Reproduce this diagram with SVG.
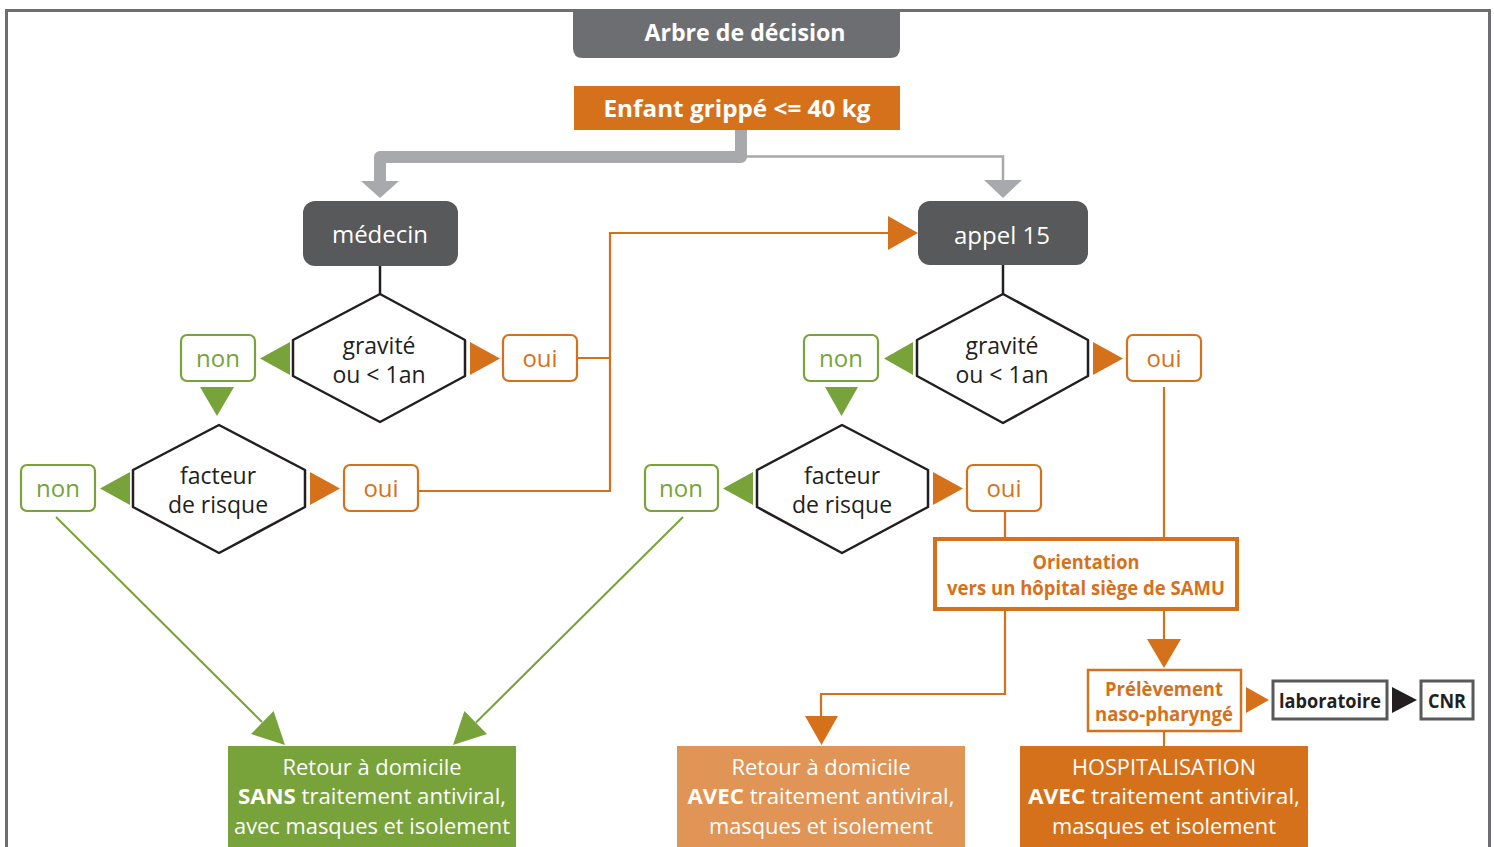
<svg xmlns="http://www.w3.org/2000/svg" width="1494" height="847" viewBox="0 0 1494 847">
<style>
.t{font-family:"Open Sans","Noto Sans","Liberation Sans",sans-serif;text-anchor:middle}
.w{fill:#ffffff}
.b{font-weight:bold}
.dk{fill:#231f20}
.gt{fill:#77a33a}
.ot{fill:#d6711b}
.dia{fill:#ffffff;stroke:#231f20;stroke-width:2.5;stroke-linejoin:round}
.gbox{fill:#ffffff;stroke:#77a33a;stroke-width:2.2}
.obox{fill:#ffffff;stroke:#d6711b;stroke-width:2.2}
.gl{fill:none;stroke:#77a33a;stroke-width:2}
.ol{fill:none;stroke:#d6711b;stroke-width:2.2}
.gf{fill:#77a33a}
.of{fill:#d6711b}
.kl{fill:none;stroke:#231f20;stroke-width:2.5}
.dt{font-size:23px}
</style>
<rect x="0" y="0" width="1494" height="847" fill="#ffffff"/>
<path d="M6.5 847 V10.5 H1489.5 V847" fill="none" stroke="#6d6e71" stroke-width="3"/>

<g id="title">
<path d="M573 10 H900 V48 Q900 58 890 58 H583 Q573 58 573 48 Z" fill="#6d6e71"/>
<text class="t w b" x="745" y="41" font-size="23" textLength="201" lengthAdjust="spacingAndGlyphs">Arbre de décision</text>
</g>

<g id="enfant">
<rect x="574" y="86" width="326" height="44" fill="#d6711b"/>
<text class="t w b" x="737" y="117" font-size="24" textLength="267" lengthAdjust="spacingAndGlyphs">Enfant grippé &lt;= 40 kg</text>
</g>

<g id="connectors">
<path d="M741 130 V157 H380 V182" fill="none" stroke="#a7a9ac" stroke-width="12" stroke-linejoin="round"/>
<polygon points="361,181 399,181 380,198" fill="#a7a9ac"/>
<path d="M741 156.5 H1003 V181" fill="none" stroke="#a7a9ac" stroke-width="2.5"/>
<polygon points="984,180 1022,180 1003,198" fill="#a7a9ac"/>

<line x1="380" y1="266" x2="380" y2="294" class="kl"/>
<line x1="1003" y1="265" x2="1003" y2="294" class="kl"/>

<polygon points="290,342 290,375 260,358.5" class="gf"/>
<polygon points="470,342 470,375 500,358.5" class="of"/>
<polygon points="200,387 234,387 217,416" class="gf"/>
<polygon points="130,472 130,505 100,488.5" class="gf"/>
<polygon points="310,472 310,505 340,488.5" class="of"/>

<path d="M577 358 H610 M418 491 H610 V233 H889" class="ol"/>
<polygon points="888,216 888,250 918,233" class="of"/>

<polygon points="913,342 913,375 884,358.5" class="gf"/>
<polygon points="1093,342 1093,375 1123,358.5" class="of"/>
<polygon points="825,387 858,387 841.5,416" class="gf"/>
<polygon points="753,472 753,505 723,488.5" class="gf"/>
<polygon points="933,472 933,505 963,488.5" class="of"/>

<path d="M1164 387 V538 M1005 511 V538" class="ol"/>
<path d="M1005 610 V694 H821 V717" class="ol"/>
<polygon points="805,716 838,716 821.5,745" class="of"/>
<path d="M1164 610 V641" class="ol"/>
<polygon points="1147,639 1181,639 1164,668" class="of"/>
<path d="M1164 731 V746" class="ol"/>
<polygon points="1246,687 1246,713 1269,700" class="of"/>
<polygon points="1392,687 1392,713 1417,700" fill="#231f20"/>

<line x1="56" y1="517" x2="262" y2="722" class="gl"/>
<polygon points="285,745 251,734 273.6,711" class="gf"/>
<line x1="683" y1="517" x2="476" y2="722.5" class="gl"/>
<polygon points="453,745 487,734 464.4,711" class="gf"/>
</g>

<g id="medecin">
<rect x="303" y="201" width="155" height="65" rx="12" fill="#58595b"/>
<text class="t w" x="380" y="243" font-size="24">médecin</text>
</g>

<g id="appel15">
<rect x="918" y="201" width="170" height="64" rx="12" fill="#58595b"/>
<text class="t w" x="1002" y="244" font-size="24">appel 15</text>
</g>

<g id="gravite-left">
<polygon points="380,294 465,340 465,376 380,422 293,376 293,340" class="dia"/>
<text class="t dk dt" x="379" y="354">gravité</text>
<text class="t dk dt" x="379" y="383">ou &lt; 1an</text>
</g>
<g id="non1">
<rect x="181" y="335" width="74" height="46" rx="6" class="gbox"/>
<text class="t gt" x="218" y="367" font-size="24">non</text>
</g>
<g id="oui1">
<rect x="503" y="335" width="74" height="46" rx="6" class="obox"/>
<text class="t ot" x="540" y="367" font-size="24">oui</text>
</g>

<g id="facteur-left">
<polygon points="219,425 305,470 305,507 219,553 133,507 133,470" class="dia"/>
<text class="t dk dt" x="218" y="484">facteur</text>
<text class="t dk dt" x="218" y="513">de risque</text>
</g>
<g id="non2">
<rect x="21" y="465" width="74" height="46" rx="6" class="gbox"/>
<text class="t gt" x="58" y="497" font-size="24">non</text>
</g>
<g id="oui2">
<rect x="344" y="465" width="74" height="46" rx="6" class="obox"/>
<text class="t ot" x="381" y="497" font-size="24">oui</text>
</g>

<g id="gravite-right">
<polygon points="1003,294 1088,340 1088,376 1003,423 917,376 917,340" class="dia"/>
<text class="t dk dt" x="1002" y="354">gravité</text>
<text class="t dk dt" x="1002" y="383">ou &lt; 1an</text>
</g>
<g id="non3">
<rect x="804" y="335" width="74" height="46" rx="6" class="gbox"/>
<text class="t gt" x="841" y="367" font-size="24">non</text>
</g>
<g id="oui3">
<rect x="1127" y="335" width="74" height="46" rx="6" class="obox"/>
<text class="t ot" x="1164" y="367" font-size="24">oui</text>
</g>

<g id="facteur-right">
<polygon points="842,425 928,470 928,507 842,553 757,507 757,470" class="dia"/>
<text class="t dk dt" x="842" y="484">facteur</text>
<text class="t dk dt" x="842" y="513">de risque</text>
</g>
<g id="non4">
<rect x="645" y="465" width="73" height="46" rx="6" class="gbox"/>
<text class="t gt" x="681" y="497" font-size="24">non</text>
</g>
<g id="oui4">
<rect x="967" y="465" width="74" height="46" rx="6" class="obox"/>
<text class="t ot" x="1004" y="497" font-size="24">oui</text>
</g>

<g id="orientation">
<rect x="935" y="539" width="302" height="70" fill="#ffffff" stroke="#d6711b" stroke-width="4"/>
<text class="t ot b" x="1086" y="569" font-size="19" textLength="107" lengthAdjust="spacingAndGlyphs">Orientation</text>
<text class="t ot b" x="1086" y="595" font-size="19" textLength="278" lengthAdjust="spacingAndGlyphs">vers un hôpital siège de SAMU</text>
</g>

<g id="prelevement">
<rect x="1088" y="670" width="153" height="61" fill="#ffffff" stroke="#d6711b" stroke-width="2.5"/>
<text class="t ot b" x="1164" y="696" font-size="19" textLength="118" lengthAdjust="spacingAndGlyphs">Prélèvement</text>
<text class="t ot b" x="1164" y="721" font-size="19" textLength="138" lengthAdjust="spacingAndGlyphs">naso-pharyngé</text>
</g>

<g id="laboratoire">
<rect x="1273" y="681" width="114" height="38" fill="#ffffff" stroke="#58595b" stroke-width="3"/>
<text class="t dk b" x="1330" y="708" font-size="19" textLength="102" lengthAdjust="spacingAndGlyphs">laboratoire</text>
</g>

<g id="cnr">
<rect x="1421" y="681" width="52" height="38" fill="#ffffff" stroke="#58595b" stroke-width="3"/>
<text class="t dk b" x="1447" y="708" font-size="19" textLength="38" lengthAdjust="spacingAndGlyphs">CNR</text>
</g>

<g id="retour-sans">
<rect x="228" y="746" width="288" height="101" fill="#77a33a"/>
<text class="t w" x="372" y="775" font-size="22" textLength="179" lengthAdjust="spacingAndGlyphs">Retour à domicile</text>
<text class="t w" x="372" y="804" font-size="22" textLength="268" lengthAdjust="spacingAndGlyphs"><tspan font-weight="bold">SANS</tspan> traitement antiviral,</text>
<text class="t w" x="372" y="834" font-size="22" textLength="276" lengthAdjust="spacingAndGlyphs">avec masques et isolement</text>
</g>

<g id="retour-avec">
<rect x="677" y="746" width="288" height="101" fill="#e09455"/>
<text class="t w" x="821" y="775" font-size="22" textLength="179" lengthAdjust="spacingAndGlyphs">Retour à domicile</text>
<text class="t w" x="821" y="804" font-size="22" textLength="267" lengthAdjust="spacingAndGlyphs"><tspan font-weight="bold">AVEC</tspan> traitement antiviral,</text>
<text class="t w" x="821" y="834" font-size="22" textLength="224" lengthAdjust="spacingAndGlyphs">masques et isolement</text>
</g>

<g id="hospitalisation">
<rect x="1020" y="746" width="288" height="101" fill="#d6711b"/>
<text class="t w" x="1164" y="775" font-size="22" textLength="184" lengthAdjust="spacingAndGlyphs">HOSPITALISATION</text>
<text class="t w" x="1164" y="804" font-size="22" textLength="272" lengthAdjust="spacingAndGlyphs"><tspan font-weight="bold">AVEC</tspan>  traitement antiviral,</text>
<text class="t w" x="1164" y="834" font-size="22" textLength="224" lengthAdjust="spacingAndGlyphs">masques et isolement</text>
</g>
</svg>
